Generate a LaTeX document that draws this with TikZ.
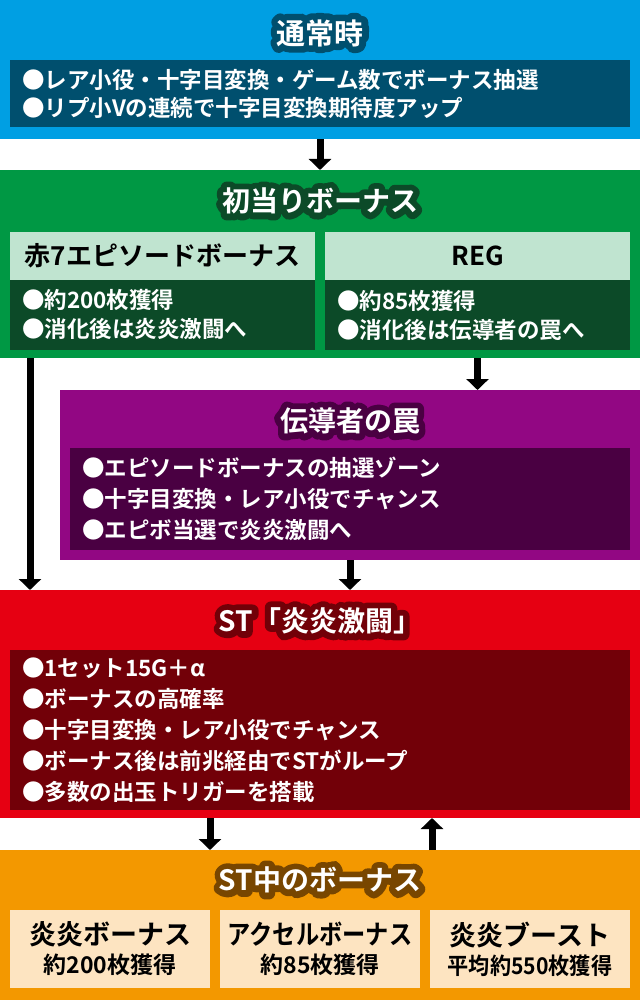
\documentclass[tikz,border=0pt]{standalone}
\usepackage{fontspec}
\usepackage{xcolor}
\usetikzlibrary{positioning, arrows.meta}
\newfontfamily\jp{Noto Sans CJK JP Bold}
\newfontfamily\jprim{Noto Sans CJK JP Bold}[FakeBold=45]

\definecolor{normalblue}{RGB}{0,159,227}
\definecolor{normaldark}{RGB}{0,79,110}
\definecolor{firstgreen}{RGB}{0,152,68}
\definecolor{firstlight}{RGB}{192,228,208}
\definecolor{firstdark}{RGB}{12,74,40}
\definecolor{trappurple}{RGB}{146,7,131}
\definecolor{trapdark}{RGB}{74,0,66}
\definecolor{stred}{RGB}{230,0,18}
\definecolor{stdark}{RGB}{114,0,8}
\definecolor{bonusorange}{RGB}{243,152,0}
\definecolor{bonuslight}{RGB}{253,228,193}
\definecolor{bonusbrown}{RGB}{120,70,0}

% white title with a dark rim (heavy copy under the white one)
\newcommand\halo[2]{\makebox[0pt][l]{\jprim\color{#1}#2}#2}

\tikzset{
  band/.style={fill=#1, anchor=north west, inner sep=0pt, outer sep=0pt},
  bodybox/.style={fill=#1, anchor=north west, inner xsep=12pt, inner ysep=0pt, outer sep=0pt,
    align=left, text=white, font=\jp\fontsize{22.5}{31}\selectfont},
  headbox/.style={fill=#1, anchor=north west, inner sep=0pt, outer sep=0pt,
    text=black, font=\jp\fontsize{26}{30}\selectfont},
  ttl/.style={text=white, inner sep=0pt, line join=round, font=\jp\fontsize{28}{30}\selectfont},
  arr/.style={line width=7pt, -{Triangle[width=22pt,length=11pt]}}
}

\begin{document}
\begin{tikzpicture}[x=1pt, y=-1pt, line join=round]
    \useasboundingbox (0,0) rectangle (640,1000);

    % Normal play
    \node[band=normalblue, minimum width=640pt, minimum height=139pt] (normal) at (0,0) {};
    \node[ttl, font=\jp\fontsize{29}{30}\selectfont] (normalttl) at (320,33) {\halo{normaldark}{通常時}};
    \node[bodybox=normaldark, text width=596pt, minimum height=67pt, font=\jp\fontsize{22.5}{28}\selectfont] (normalbody) at (10,60)
        {●レア小役・十字目変換・ゲーム数でボーナス抽選\\●リプ小Vの連続で十字目変換期待度アップ};

    % First bonus
    \node[band=firstgreen, minimum width=640pt, minimum height=188pt] (first) at (0,170) {};
    \node[ttl] (firstttl) at (320,201) {\halo{firstdark}{初当りボーナス}};
    \node[headbox=firstlight, minimum width=305pt, minimum height=48pt] (epi) at (10,232) {赤7エピソードボーナス};
    \node[bodybox=firstdark, text width=281pt, minimum height=70pt, font=\jp\fontsize{22.5}{29}\selectfont] (epibody) at (10,280)
        {●約200枚獲得\\●消化後は炎炎激闘へ};
    \node[headbox=firstlight, minimum width=305pt, minimum height=48pt] (reg) at (325,232) {REG};
    \node[bodybox=firstdark, text width=281pt, minimum height=70pt, font=\jp\fontsize{22.5}{29}\selectfont] (regbody) at (325,280)
        {●約85枚獲得\\●消化後は伝導者の罠へ};

    % Trap zone
    \node[band=trappurple, minimum width=580pt, minimum height=170pt] (trap) at (60,390) {};
    \node[ttl] (trapttl) at (350,421) {\halo{trapdark}{伝導者の罠}};
    \node[bodybox=trapdark, text width=536pt, minimum height=102pt] (trapbody) at (70,448)
        {●エピソードボーナスの抽選ゾーン\\●十字目変換・レア小役でチャンス\\●エピボ当選で炎炎激闘へ};

    % ST
    \node[band=stred, minimum width=640pt, minimum height=228pt] (st) at (0,590) {};
    \node[ttl] (stttl) at (320,621) {\halo{stdark}{ST「炎炎激闘」}};
    \node[bodybox=stdark, text width=596pt, minimum height=160pt] (stbody) at (10,650)
        {●1セット15G＋α\\●ボーナスの高確率\\●十字目変換・レア小役でチャンス\\●ボーナス後は前兆経由でSTがループ\\●多数の出玉トリガーを搭載};

    % Bonuses during ST
    \node[band=bonusorange, minimum width=640pt, minimum height=150pt] (stbonus) at (0,850) {};
    \node[ttl] (stbonusttl) at (320,880) {\halo{bonusbrown}{ST中のボーナス}};
    \node[headbox=bonuslight, minimum width=200pt, minimum height=78pt, align=center, font=\jp\fontsize{27}{30}\selectfont] (enen) at (10,910)
        {炎炎ボーナス\\[-1pt]{\fontsize{23}{26}\selectfont 約200枚獲得}};
    \node[headbox=bonuslight, minimum width=200pt, minimum height=78pt, align=center, font=\jp\fontsize{27}{30}\selectfont] (accel) at (220,910)
        {\scalebox{0.86}[1]{アクセルボーナス}\\[-1pt]{\fontsize{23}{26}\selectfont 約85枚獲得}};
    \node[headbox=bonuslight, minimum width=200pt, minimum height=78pt, align=center, font=\jp\fontsize{27}{30}\selectfont] (boost) at (430,910)
        {炎炎ブースト\\[-1pt]{\fontsize{23}{26}\selectfont\scalebox{0.92}[1]{平均約550枚獲得}}};

    % Arrows
    \draw[arr] (normal.south) -- (first.north);
    \draw[arr] ([xshift=30pt]first.south west) -- ([xshift=30pt]st.north west);
    \draw[arr] (regbody.south |- first.south) -- (regbody.south |- trap.north);
    \draw[arr] (trap.south) -- (trap.south |- st.north);
    \draw[arr] ([xshift=210pt]st.south west) -- ([xshift=210pt]stbonus.north west);
    \draw[arr] ([xshift=432pt]stbonus.north west) -- ([xshift=432pt]st.south west);

\end{tikzpicture}
\end{document}
